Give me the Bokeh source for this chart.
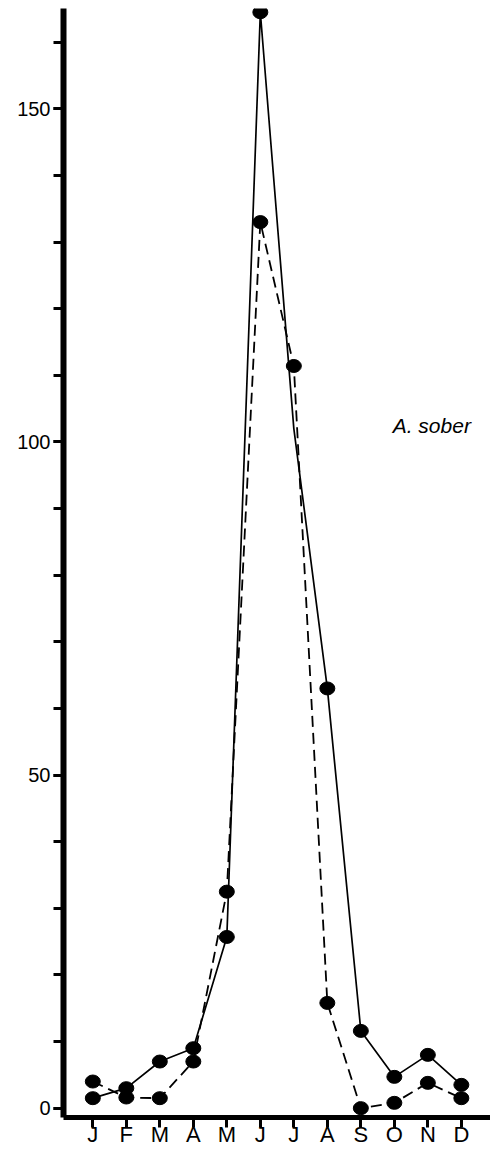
from bokeh.plotting import figure
from bokeh.models import FixedTicker, Label, Range1d
from bokeh.embed import file_html
from bokeh.resources import INLINE

# --- data ---
months = [1, 2, 3, 4, 5, 6, 7, 8, 9, 10, 11, 12]
month_labels = ["J", "F", "M", "A", "M", "J", "J", "A", "S", "O", "N", "D"]
solid_series = [1.5, 3.0, 7.0, 9.0, 25.7, 164.5, 102.0, 63.0, 11.6, 4.7, 8.0, 3.5]
dashed_series = [4.0, 1.6, 1.5, 7.0, 32.5, 133.0, 111.4, 15.8, 0.0, 0.8, 3.8, 1.5]
solid_dot_months = [1, 2, 3, 4, 5, 6, 8, 9, 10, 11, 12]
y_major = [0, 50, 100, 150]
y_minor = list(range(0, 170, 10))
species = "A. sober"

FONT = "Liberation Sans"

p = figure(width=490, height=1149, output_backend="svg", toolbar_location=None,
           x_range=Range1d(0.125, 12.87), y_range=Range1d(-1.4, 165.06),
           min_border_left=63, min_border_right=0, min_border_top=8)
p.outline_line_color = None
p.grid.visible = False
p.background_fill_color = "white"
p.border_fill_color = "white"

# lines
p.line(months, solid_series, line_color="black", line_width=1.7)
p.line(months, dashed_series, line_color="black", line_width=1.8, line_dash="11 6")

# dots
solid_dot_vals = [solid_series[m - 1] for m in solid_dot_months]
p.ellipse(solid_dot_months, solid_dot_vals, width=15, height=13,
          width_units="screen", height_units="screen",
          fill_color="black", line_color="black")
p.ellipse(months, dashed_series, width=15, height=13,
          width_units="screen", height_units="screen",
          fill_color="black", line_color="black")

# axes
xa = p.xaxis[0]
xa.ticker = FixedTicker(ticks=months)
xa.major_label_overrides = {m: l for m, l in zip(months, month_labels)}
xa.axis_line_width = 5
xa.major_tick_line_width = 3
xa.major_tick_out = 10
xa.major_tick_in = 0
xa.minor_tick_line_color = None
xa.major_label_standoff = -6
xa.major_label_text_font = FONT
xa.major_label_text_font_size = "22px"
xa.major_label_text_color = "black"

ya = p.yaxis[0]
ya.ticker = FixedTicker(ticks=y_major, minor_ticks=y_minor)
ya.axis_line_width = 6
ya.major_tick_line_width = 3
ya.minor_tick_line_width = 3
ya.major_tick_out = 10
ya.minor_tick_out = 10
ya.major_tick_in = 0
ya.minor_tick_in = 0
ya.major_label_standoff = 3
ya.major_label_text_font = FONT
ya.major_label_text_font_size = "20px"
ya.major_label_text_color = "black"

p.add_layout(Label(x=9.95, y=102.4, text=species, text_font=FONT,
                   text_font_style="italic", text_font_size="21px",
                   text_baseline="alphabetic", text_align="left",
                   text_color="black"))

open("out.html", "w").write(file_html(p, INLINE))
